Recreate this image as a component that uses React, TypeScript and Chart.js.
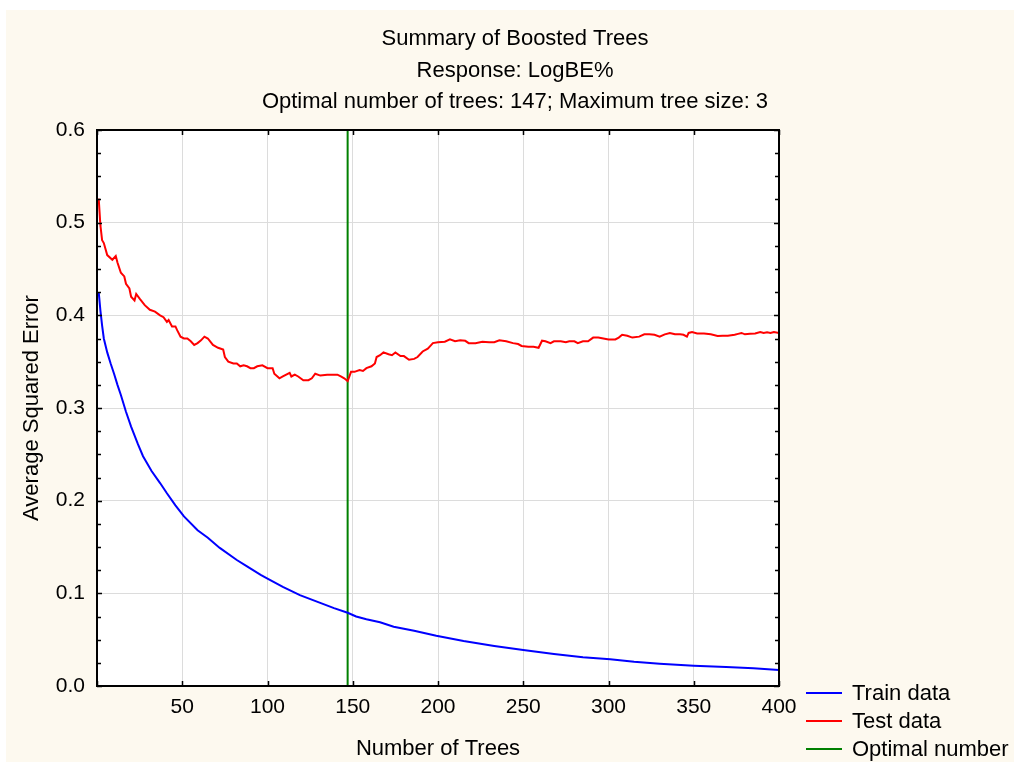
import React, { useEffect, useRef } from "react";
import { Chart, registerables } from "chart.js";

Chart.register(...registerables);

const titleLines = [
  "Summary of Boosted Trees",
  "Response: LogBE%",
  "Optimal number of trees: 147; Maximum tree size: 3",
];
const xTitle = "Number of Trees";
const yTitle = "Average Squared Error";
const seriesLabels = ["Train data", "Test data", "Optimal number"];
const seriesColors = ["#0000ff", "#ff0000", "#008000"];

const optimalTrees = 147;

const trainTrees = [1, 2, 3, 4, 6, 8, 10, 12, 14, 17, 20, 24, 27, 32, 37, 41, 46, 51, 59, 65, 72, 82, 88, 96, 100, 109, 119, 129, 139, 147, 152, 158, 166, 174, 186, 199, 215, 233, 250, 268, 285, 301, 315, 330, 350, 369, 385, 400];
const trainError = [0.425, 0.405, 0.389, 0.375, 0.36, 0.348, 0.337, 0.325, 0.314, 0.296, 0.28, 0.261, 0.248, 0.232, 0.219, 0.208, 0.195, 0.183, 0.168, 0.16, 0.149, 0.136, 0.129, 0.12, 0.116, 0.107, 0.098, 0.091, 0.084, 0.079, 0.075, 0.072, 0.0687, 0.064, 0.0597, 0.0543, 0.0486, 0.0432, 0.0388, 0.0345, 0.031, 0.0288, 0.0262, 0.0241, 0.0219, 0.0205, 0.0191, 0.0172];

const testTrees = [1, 2, 3, 4, 6, 9, 11, 12, 14, 16, 17, 19, 20, 22, 23, 25, 28, 31, 34, 37, 39, 41, 42, 44, 46, 47, 49, 51, 53, 55, 57, 59, 61, 63, 65, 68, 71, 74, 75, 77, 80, 82, 84, 86, 88, 90, 92, 94, 97, 100, 103, 104, 107, 109, 113, 114, 116, 118, 121, 124, 126, 128, 131, 135, 139, 141, 143, 145, 147, 149, 151, 154, 156, 158, 161, 163, 164, 166, 168, 171, 173, 175, 178, 180, 183, 186, 188, 191, 194, 195, 197, 200, 204, 207, 210, 213, 216, 218, 222, 226, 230, 233, 236, 240, 244, 247, 249, 253, 256, 259, 261, 263, 266, 268, 272, 275, 277, 280, 282, 285, 288, 291, 294, 297, 300, 304, 306, 308, 311, 314, 318, 321, 324, 327, 330, 333, 336, 339, 342, 344, 346, 347, 349, 352, 356, 360, 364, 367, 370, 374, 376, 378, 380, 383, 386, 389, 391, 393, 395, 397, 400];
const testError = [0.526, 0.497, 0.481, 0.478, 0.465, 0.46, 0.464, 0.457, 0.446, 0.442, 0.434, 0.429, 0.42, 0.416, 0.423, 0.418, 0.411, 0.406, 0.404, 0.4, 0.398, 0.393, 0.395, 0.388, 0.388, 0.384, 0.377, 0.375, 0.375, 0.372, 0.368, 0.37, 0.373, 0.377, 0.375, 0.368, 0.365, 0.363, 0.355, 0.35, 0.348, 0.348, 0.345, 0.346, 0.345, 0.343, 0.343, 0.345, 0.346, 0.343, 0.343, 0.337, 0.332, 0.334, 0.338, 0.334, 0.336, 0.334, 0.33, 0.33, 0.332, 0.337, 0.335, 0.336, 0.336, 0.336, 0.334, 0.332, 0.329, 0.339, 0.339, 0.341, 0.34, 0.343, 0.345, 0.348, 0.355, 0.357, 0.36, 0.358, 0.357, 0.36, 0.356, 0.356, 0.352, 0.353, 0.355, 0.361, 0.364, 0.366, 0.37, 0.371, 0.3715, 0.374, 0.372, 0.373, 0.3725, 0.37, 0.37, 0.3715, 0.371, 0.371, 0.373, 0.372, 0.37, 0.369, 0.367, 0.366, 0.366, 0.365, 0.3726, 0.372, 0.37, 0.372, 0.372, 0.371, 0.372, 0.372, 0.37, 0.372, 0.372, 0.376, 0.376, 0.375, 0.374, 0.374, 0.376, 0.379, 0.378, 0.376, 0.377, 0.3795, 0.3795, 0.379, 0.377, 0.3795, 0.381, 0.3795, 0.3795, 0.379, 0.377, 0.381, 0.382, 0.3805, 0.3805, 0.3795, 0.3777, 0.378, 0.378, 0.379, 0.38, 0.381, 0.3795, 0.38, 0.3805, 0.382, 0.381, 0.3818, 0.381, 0.382, 0.381];

const optimalLineY = [0, 0.6];

const xMin = 0;
const xMax = 400;
const xStep = 50;
const yMin = 0;
const yMax = 0.6;
const yStep = 0.1;
const yMinorStep = 0.025;

const FONT = "'Liberation Sans', Arial, Helvetica, sans-serif";

const decorPlugin = {
  id: "decor",
  beforeDraw(chart: any) {
    const { ctx, chartArea: a, width, height } = chart;
    ctx.save();
    ctx.fillStyle = "#ffffff";
    ctx.fillRect(0, 0, width, height);
    ctx.fillStyle = "#fdf9ef";
    ctx.fillRect(6, 10, width - 6, height - 10);
    ctx.fillStyle = "#ffffff";
    ctx.fillRect(a.left, a.top, a.right - a.left, a.bottom - a.top);
    ctx.restore();
  },
  afterDraw(chart: any) {
    const { ctx, chartArea: a, scales } = chart;
    const xs = scales.x;
    const ys = scales.y;
    ctx.save();
    ctx.strokeStyle = "#000";
    ctx.lineWidth = 2;
    ctx.strokeRect(a.left, a.top, a.right - a.left, a.bottom - a.top);
    ctx.lineWidth = 1.5;
    ctx.beginPath();
    const nMinor = Math.round((yMax - yMin) / yMinorStep);
    for (let k = 0; k <= nMinor; k++) {
      const v = yMin + k * yMinorStep;
      const py = Math.round(ys.getPixelForValue(v)) + 0.5;
      const len = k % 4 === 0 ? 5 : 4;
      ctx.moveTo(a.left, py);
      ctx.lineTo(a.left + len, py);
      ctx.moveTo(a.right, py);
      ctx.lineTo(a.right - len, py);
    }
    for (let v = xMin; v <= xMax; v += xStep) {
      const px = Math.round(xs.getPixelForValue(v)) + 0.5;
      ctx.moveTo(px, a.bottom);
      ctx.lineTo(px, a.bottom - 5);
      ctx.moveTo(px, a.top);
      ctx.lineTo(px, a.top + 5);
    }
    ctx.stroke();

    ctx.fillStyle = "#000";
    ctx.font = `22px ${FONT}`;
    ctx.textAlign = "center";
    ctx.textBaseline = "middle";
    const titleY = [39, 70.5, 102];
    titleLines.forEach((t, i) => ctx.fillText(t, 515, titleY[i]));

    const legY = [693, 721, 749];
    ctx.font = `22px ${FONT}`;
    ctx.textAlign = "left";
    chart.data.datasets.forEach((ds: any, i: number) => {
      ctx.strokeStyle = ds.borderColor;
      ctx.lineWidth = 2;
      ctx.beginPath();
      ctx.moveTo(806, legY[i]);
      ctx.lineTo(842, legY[i]);
      ctx.stroke();
      ctx.fillStyle = "#000";
      ctx.fillText(ds.label, 852, legY[i] + 1);
    });
    ctx.restore();
  },
};

export default function App() {
  const ref = useRef<HTMLCanvasElement | null>(null);
  useEffect(() => {
    if (!ref.current) return;
    const chart = new Chart(ref.current, {
      type: "line",
      data: {
        datasets: [
          {
            label: seriesLabels[0],
            data: trainTrees.map((t, i) => ({ x: t, y: trainError[i] })),
            borderColor: seriesColors[0],
            borderWidth: 2,
            pointRadius: 0,
            tension: 0,
          },
          {
            label: seriesLabels[1],
            data: testTrees.map((t, i) => ({ x: t, y: testError[i] })),
            borderColor: seriesColors[1],
            borderWidth: 2,
            pointRadius: 0,
            tension: 0,
          },
          {
            label: seriesLabels[2],
            data: optimalLineY.map((y) => ({ x: optimalTrees, y })),
            borderColor: seriesColors[2],
            borderWidth: 2,
            pointRadius: 0,
            tension: 0,
          },
        ],
      },
      options: {
        responsive: false,
        animation: false,
        layout: { padding: { left: 6, top: 130, right: 235, bottom: 0 } },
        plugins: {
          legend: { display: false },
          title: { display: false },
          tooltip: { enabled: false },
        },
        scales: {
          x: {
            type: "linear",
            min: xMin,
            max: xMax,
            border: { display: false },
            grid: { color: "#dcdcdc", lineWidth: 1, drawTicks: false },
            ticks: {
              stepSize: xStep,
              autoSkip: false,
              maxRotation: 0,
              padding: 9,
              color: "#000",
              font: { family: FONT, size: 21 },
              callback: (v: any) => (v === 0 ? "" : String(v)),
            },
            title: {
              display: true,
              text: xTitle,
              color: "#000",
              font: { family: FONT, size: 22 },
              padding: { top: 0, bottom: 0 },
            },
            afterFit: (s: any) => {
              s.height = 76;
            },
          },
          y: {
            type: "linear",
            min: yMin,
            max: yMax,
            border: { display: false },
            grid: { color: "#dcdcdc", lineWidth: 1, drawTicks: false },
            ticks: {
              stepSize: yStep,
              padding: 12,
              color: "#000",
              font: { family: FONT, size: 21 },
              callback: (v: any) => Number(v).toFixed(1),
            },
            title: {
              display: true,
              text: yTitle,
              color: "#000",
              font: { family: FONT, size: 22 },
              padding: { top: 13, bottom: 0 },
            },
            afterFit: (s: any) => {
              s.width = 91;
            },
          },
        },
      },
      plugins: [decorPlugin],
    });
    return () => chart.destroy();
  }, []);

  return (
    <div style={{ position: "absolute", left: 0, top: 0, width: 1014, height: 762 }}>
      <canvas ref={ref} width={1014} height={762} style={{ display: "block" }} />
    </div>
  );
}
